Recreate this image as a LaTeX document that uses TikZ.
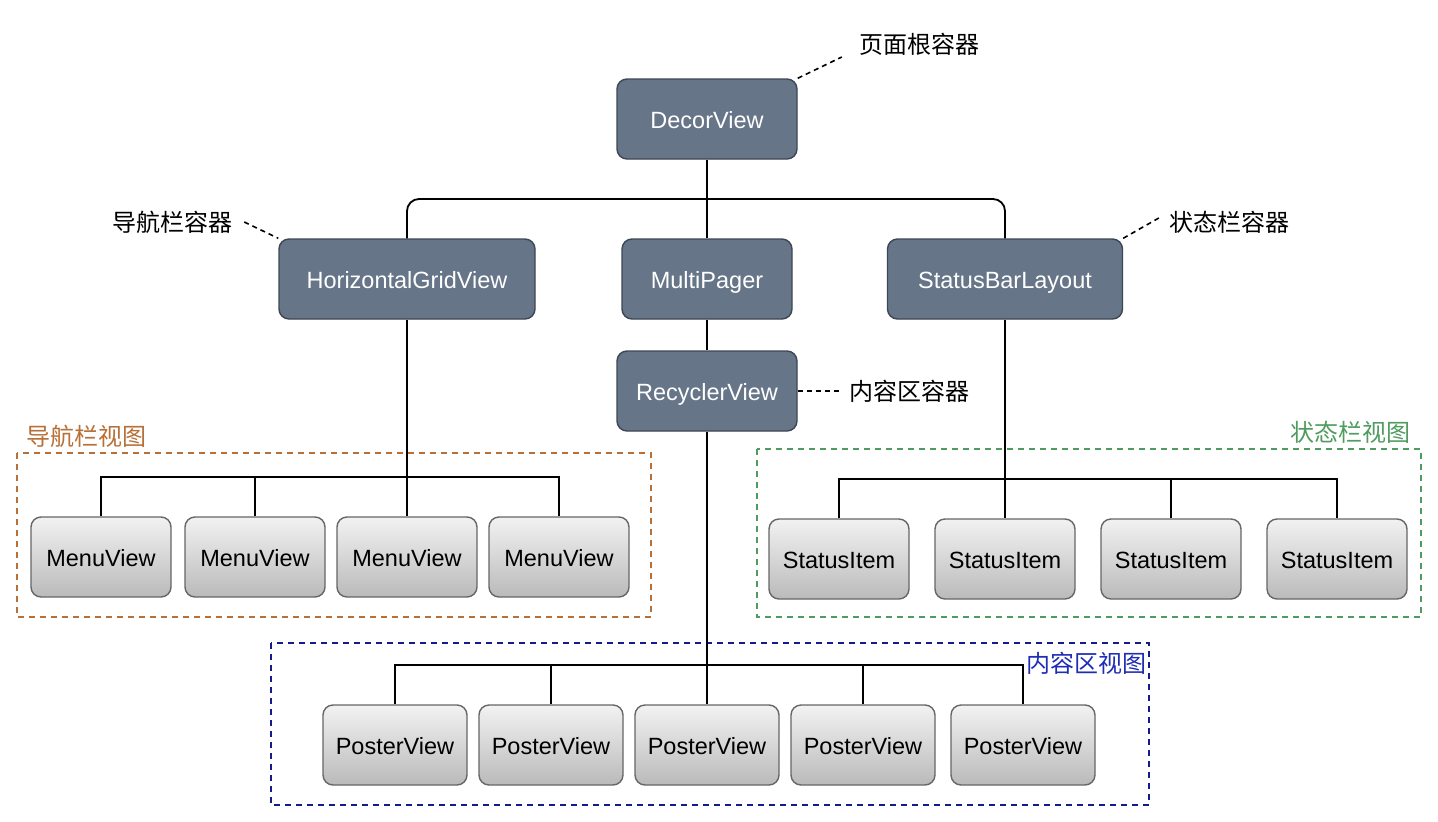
\documentclass[tikz,border=0pt]{standalone}
\usepackage{fontspec}
\setmainfont{Liberation Sans}
\newfontfamily\cjk{Noto Sans CJK SC}
\definecolor{slate}{RGB}{103,117,137}
\definecolor{slateline}{RGB}{60,70,84}
\definecolor{gtop}{RGB}{242,242,242}
\definecolor{gbot}{RGB}{186,186,186}
\definecolor{gline}{RGB}{102,102,102}
\definecolor{navc}{RGB}{183,112,56}
\definecolor{statc}{RGB}{80,155,95}
\definecolor{contc}{RGB}{20,28,140}
\definecolor{conttext}{RGB}{30,45,180}
\begin{document}
\begin{tikzpicture}[x=1pt,y=-1pt,
  darkbox/.style={rectangle, rounded corners=10pt, fill=slate, draw=slateline, line width=1.4pt,
    minimum height=80pt, text height=18pt, text depth=0pt, text=white, font=\fontsize{23.5}{28}\selectfont},
  graybox/.style={rectangle, rounded corners=10pt, top color=gtop, bottom color=gbot, draw=gline, line width=1.4pt,
    minimum height=80pt, text height=18pt, text depth=0pt, text=black, font=\fontsize{23.5}{28}\selectfont},
  conn/.style={draw=black, line width=1.8pt},
  annot/.style={draw=black, line width=1.6pt, dash pattern=on 5pt off 4pt},
  note/.style={font=\cjk\fontsize{24}{28}\selectfont, inner sep=0pt},
  grp/.style={line width=1.8pt, dash pattern=on 6pt off 5pt}
]
\useasboundingbox (0,0) rectangle (1438,822);

% group boxes
\draw[grp, draw=navc] (17,453) rectangle (651,617);
\draw[grp, draw=statc] (757,449) rectangle (1421,617);
\draw[grp, draw=contc] (271,643) rectangle (1149,805);
\node[note, text=navc] (gl1) at (87,436) {导航栏视图};
\node[note, text=statc] (gl2) at (1350,432) {状态栏视图};
\node[note, text=conttext] (gl3) at (1086,663) {内容区视图};

% main nodes
\node[darkbox, minimum width=180pt] (D) at (707,119) {DecorView};
\node[darkbox, minimum width=256pt] (H) at (407,279) {HorizontalGridView};
\node[darkbox, minimum width=170pt] (M) at (707,279) {MultiPager};
\node[darkbox, minimum width=235pt] (S) at (1005,279) {StatusBarLayout};
\node[darkbox, minimum width=180pt] (R) at (707,391) {RecyclerView};

% menu views
\node[graybox, minimum width=140pt] (m1) at (101,557) {MenuView};
\node[graybox, minimum width=140pt] (m2) at (255,557) {MenuView};
\node[graybox, minimum width=140pt] (m3) at (407,557) {MenuView};
\node[graybox, minimum width=140pt] (m4) at (559,557) {MenuView};

% status items
\node[graybox, minimum width=140pt] (s1) at (839,559) {StatusItem};
\node[graybox, minimum width=140pt] (s2) at (1005,559) {StatusItem};
\node[graybox, minimum width=140pt] (s3) at (1171,559) {StatusItem};
\node[graybox, minimum width=140pt] (s4) at (1337,559) {StatusItem};

% poster views
\node[graybox, minimum width=144pt] (p1) at (395,745) {PosterView};
\node[graybox, minimum width=144pt] (p2) at (551,745) {PosterView};
\node[graybox, minimum width=144pt] (p3) at (707,745) {PosterView};
\node[graybox, minimum width=144pt] (p4) at (863,745) {PosterView};
\node[graybox, minimum width=144pt] (p5) at (1023,745) {PosterView};

% annotations
\node[note] (l1) at (919,44) {页面根容器};
\node[note] (l2) at (172,222) {导航栏容器};
\node[note] (l3) at (1229,222) {状态栏容器};
\node[note] (l4) at (909,391) {内容区容器};

\draw[annot] (D.north east) -- ([xshift=-17pt,yshift=-13pt]l1.west);
\draw[annot] ([xshift=12pt]l2.east) -- (H.north west);
\draw[annot] (S.north east) -- ([xshift=-10pt,yshift=4pt]l3.west);
\draw[annot] (R.east) -- ([xshift=-10pt]l4.west);

% tree connectors
\coordinate (top) at (707,199);
\draw[conn, rounded corners=12pt] (H.north) |- (top) -| (S.north);
\draw[conn] (D.south) -- (M.north);
\draw[conn] (M.south) -- (R.north);

\coordinate (navbus) at (407,477);
\draw[conn] (m1.north) |- (navbus) -| (m4.north);
\draw[conn] (m2.north) -- (m2.north |- navbus);
\draw[conn] (H.south) -- (m3.north);

\coordinate (statbus) at (1005,479);
\draw[conn] (s1.north) |- (statbus) -| (s4.north);
\draw[conn] (s3.north) -- (s3.north |- statbus);
\draw[conn] (S.south) -- (s2.north);

\coordinate (contbus) at (707,665);
\draw[conn] (p1.north) |- (contbus) -| (p5.north);
\draw[conn] (p2.north) -- (p2.north |- contbus);
\draw[conn] (p4.north) -- (p4.north |- contbus);
\draw[conn] (R.south) -- (p3.north);
\end{tikzpicture}
\end{document}
